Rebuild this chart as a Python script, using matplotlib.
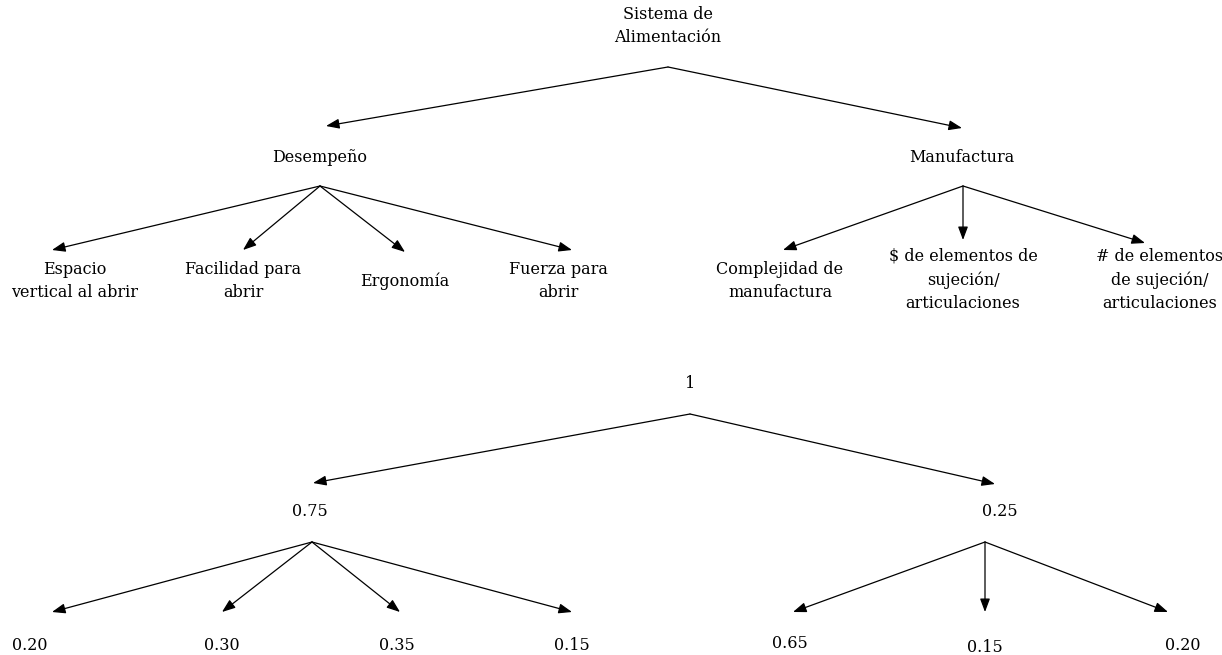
import matplotlib.pyplot as plt

plt.rcParams['font.family'] = ['DejaVu Serif']

# Tree labels
root_label = 'Sistema de\nAlimentación'
crit_labels = ['Desempeño', 'Manufactura']
sub_labels_des = ['Espacio\nvertical al abrir', 'Facilidad para\nabrir', 'Ergonomía', 'Fuerza para\nabrir']
sub_labels_man = ['Complejidad de\nmanufactura', '$ de elementos de\nsujeción/\narticulaciones',
                  '# de elementos\nde sujeción/\narticulaciones']

# Weights
root_weight = '1'
crit_weights = ['0.75', '0.25']
sub_weights_des = ['0.20', '0.30', '0.35', '0.15']
sub_weights_man = ['0.65', '0.15', '0.20']

# Layout (pixel coordinates, y downward)
W, H = 1222, 655
fig = plt.figure(figsize=(W / 100, H / 100), dpi=100)
ax = fig.add_axes([0, 0, 1, 1])
ax.set_xlim(0, W)
ax.set_ylim(H, 0)
ax.axis('off')

FS = 11.5


def arrow(x0, y0, x1, y1):
    ax.annotate('', xy=(x1, y1), xytext=(x0, y0),
                arrowprops=dict(arrowstyle='-|>,head_length=0.8,head_width=0.3',
                                mutation_scale=10, lw=0.9, color='black',
                                shrinkA=0, shrinkB=0))


def label(x, y, s):
    ax.text(x, y, s, ha='center', va='center', fontsize=FS, linespacing=1.5)


# ---- upper tree (names)
label(668, 26, root_label)
arrow(668, 67, 326, 126)
arrow(668, 67, 962, 128)
label(320, 158, crit_labels[0])
label(962, 158, crit_labels[1])

des_tips = [(52, 250), (243, 250), (405, 252), (572, 250)]
des_lbl = [(75, 281), (243, 281), (405, 281), (558, 281)]
for (tx, ty), (lx, ly), s in zip(des_tips, des_lbl, sub_labels_des):
    arrow(320, 186, tx, ty)
    label(lx, ly, s)

man_tips = [(783, 250), (963, 240), (1145, 243)]
man_lbl = [(780, 281), (963, 280), (1160, 280)]
for (tx, ty), (lx, ly), s in zip(man_tips, man_lbl, sub_labels_man):
    arrow(963, 186, tx, ty)
    label(lx, ly, s)

# ---- lower tree (weights)
label(690, 383, root_weight)
arrow(690, 414, 313, 483)
arrow(690, 414, 995, 484)
label(310, 511, crit_weights[0])
label(1000, 511, crit_weights[1])

des_tips2 = [(52, 612), (222, 612), (400, 612), (572, 612)]
des_lbl2 = [(30, 645), (222, 645), (397, 645), (572, 645)]
for (tx, ty), (lx, ly), s in zip(des_tips2, des_lbl2, sub_weights_des):
    arrow(312, 542, tx, ty)
    label(lx, ly, s)

man_tips2 = [(793, 612), (985, 612), (1168, 612)]
man_lbl2 = [(790, 643), (985, 647), (1183, 645)]
for (tx, ty), (lx, ly), s in zip(man_tips2, man_lbl2, sub_weights_man):
    arrow(985, 542, tx, ty)
    label(lx, ly, s)

fig.savefig('out.png', dpi=100, facecolor='white')
